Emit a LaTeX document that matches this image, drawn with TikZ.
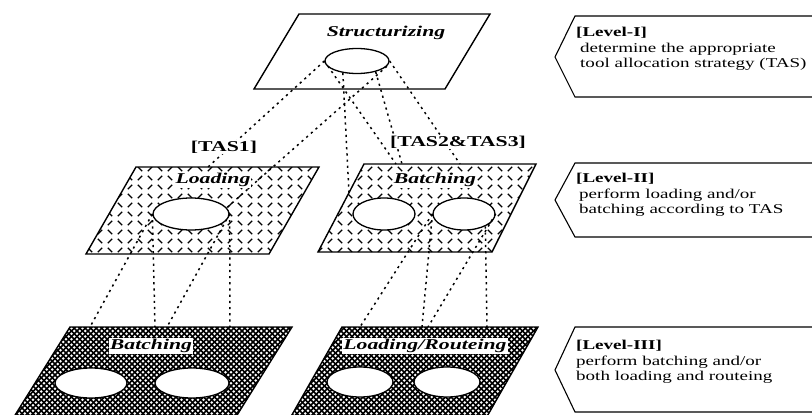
\documentclass[tikz,border=0pt]{standalone}
\usepackage{fontspec}
\setmainfont{Liberation Serif}
\newfontfamily\lblfont[FakeStretch=1.45]{Liberation Serif}
\newfontfamily\txtfont[FakeStretch=1.41]{Liberation Serif}
\usetikzlibrary{shapes.geometric}
\begin{document}
\begin{tikzpicture}[x=1pt,y=-1pt,
  plane/.style={draw=black, line width=1.4pt, line join=miter},
  ell/.style={ellipse, draw, line width=1.3pt, fill=white, inner sep=0pt},
  link/.style={line width=1.5pt, dash pattern=on 2.2pt off 4pt},
  hatch/.style={line width=1.1pt},
  xh/.style={line width=1.45pt},
  lbl/.style={font=\lblfont\fontsize{15}{16}\selectfont\bfseries\itshape, inner sep=1pt},
  tas/.style={font=\lblfont\fontsize{15}{16}\selectfont\bfseries, fill=white, inner sep=1pt},
  lvbox/.style={draw, line width=1.1pt},
  lvtext/.style={font=\txtfont\fontsize{13.5}{15.5}\selectfont, align=left, anchor=north west, inner sep=0pt}]
\useasboundingbox (0,0) rectangle (812,415);
\clip (0,0) rectangle (812,415);

% plane corners
\coordinate (T1) at (299,14); \coordinate (T2) at (490,14);
\coordinate (T3) at (445,89); \coordinate (T4) at (254,89);
\coordinate (L1) at (136,167); \coordinate (L2) at (319,167);
\coordinate (L3) at (269,254); \coordinate (L4) at (86,254);
\coordinate (B1) at (364,164); \coordinate (B2) at (536,164);
\coordinate (B3) at (492,252); \coordinate (B4) at (318,252);
\coordinate (P1) at (70,327); \coordinate (P2) at (292,327);
\coordinate (P3) at (234,420); \coordinate (P4) at (12,420);
\coordinate (Q1) at (342,327); \coordinate (Q2) at (538,327);
\coordinate (Q3) at (485,420); \coordinate (Q4) at (289,420);

% top plane
\draw[plane, fill=white] (T1)--(T2)--(T3)--(T4)--cycle;

% middle planes with diamond-plate hatch
\fill[white] (L1)--(L2)--(L3)--(L4)--cycle;
\fill[white] (B1)--(B2)--(B3)--(B4)--cycle;
\begin{scope}
\clip (L1)--(L2)--(L3)--(L4)--cycle (B1)--(B2)--(B3)--(B4)--cycle;
\foreach \i in {0,...,46}{\foreach \j in {0,...,11}{
  \ifodd\numexpr\i+\j\relax
    \draw[hatch] (80+10*\i-2.2, 160+9*\j-2.2) -- ++(4.4,4.4);
  \else
    \draw[hatch] (80+10*\i-2.2, 160+9*\j+2.2) -- ++(4.4,-4.4);
  \fi
}}
\end{scope}
\draw[plane] (L1)--(L2)--(L3)--(L4)--cycle;
\draw[plane] (B1)--(B2)--(B3)--(B4)--cycle;

% bottom planes with dense crosshatch
\fill[white] (P1)--(P2)--(P3)--(P4)--cycle;
\fill[white] (Q1)--(Q2)--(Q3)--(Q4)--cycle;
\begin{scope}
\clip (P1)--(P2)--(P3)--(P4)--cycle (Q1)--(Q2)--(Q3)--(Q4)--cycle;
\foreach \k in {0,...,135}{
  \draw[xh] (\k*5.5-110, 320) -- ++(110,110);
  \draw[xh] (\k*5.5, 320) -- ++(-110,110);
}
\end{scope}
\draw[plane] (P1)--(P2)--(P3)--(P4)--cycle;
\draw[plane] (Q1)--(Q2)--(Q3)--(Q4)--cycle;

% ellipses
\node[ell, minimum width=64pt, minimum height=25pt] (e0) at (357,61) {};
\node[ell, minimum width=76pt, minimum height=32pt] (eL) at (191,214) {};
\node[ell, minimum width=62pt, minimum height=32pt] (eBL) at (384,214) {};
\node[ell, minimum width=62pt, minimum height=32pt] (eBR) at (464,214) {};
\node[ell, minimum width=72pt, minimum height=30pt] (eP1) at (91,383) {};
\node[ell, minimum width=74pt, minimum height=30pt] (eP2) at (192,383) {};
\node[ell, minimum width=66pt, minimum height=30pt] (eQ1) at (360,382) {};
\node[ell, minimum width=66pt, minimum height=30pt] (eQ2) at (447,382) {};

% connector end points
\coordinate (a1) at (208,167); \coordinate (b1) at (396,164);
\coordinate (c1) at (349,193); \coordinate (e1) at (402,164);
\coordinate (f1) at (460,164);
\coordinate (p1) at (90,327); \coordinate (p2) at (155,327);
\coordinate (p3) at (167,327); \coordinate (p4) at (230,327);
\coordinate (q1) at (360,327); \coordinate (q2) at (422,327);
\coordinate (q3) at (428,327); \coordinate (q4) at (487,327);

% dotted connectors
\draw[link] (e0.west) -- (a1);
\draw[link] (e0.west) -- (b1);
\draw[link] (e0.220) -- (c1);
\draw[link] (e0.-10) -- (eL.10);
\draw[link] (e0.-30) -- (e1);
\draw[link] (e0.east) -- (f1);
\draw[link] (eL.west) -- (p1);
\draw[link] (eL.west) -- (p2);
\draw[link] (eL.east) -- (p3);
\draw[link] (eL.east) -- (p4);
\draw[link] (eBR.west) -- (q1);
\draw[link] (eBR.west) -- (q2);
\draw[link] (eBR.east) -- (q3);
\draw[link] (eBR.-30) -- (q4);

% labels
\node[lbl] (sLbl) at (386,33) {Structurizing};
\node[tas] (tas1) at (224,147) {[TAS1]};
\node[tas] (tas23) at (458,142) {[TAS2\&TAS3]};
\node[lbl, fill=white] (lLbl) at (213,180) {Loading};
\node[lbl, fill=white] (bLbl) at (435,180) {Batching};
\node[lbl, fill=white] (pLbl) at (151,346) {Batching};
\node[lbl, fill=white] (qLbl) at (425,346) {Loading/Routeing};

% level boxes
\draw[lvbox] (815,16) -- (575,16) -- (555,57) -- (575,97) -- (815,97);
\draw[lvbox] (815,163) -- (575,163) -- (555,200) -- (575,237) -- (815,237);
\draw[lvbox] (815,327) -- (575,327) -- (555,370) -- (575,412) -- (815,412);
\node[lvtext] (lv1) at (576,27) {\textbf{[Level-I]}\\\hspace*{4pt}determine the appropriate\\\hspace*{4pt}tool allocation strategy (TAS)};
\node[lvtext] (lv2) at (576,173) {\textbf{[Level-II]}\\\hspace*{3pt}perform loading and/or\\\hspace*{3pt}batching according to TAS};
\node[lvtext] (lv3) at (576,340) {\textbf{[Level-III]}\\perform batching and/or\\both loading and routeing};
\end{tikzpicture}
\end{document}
